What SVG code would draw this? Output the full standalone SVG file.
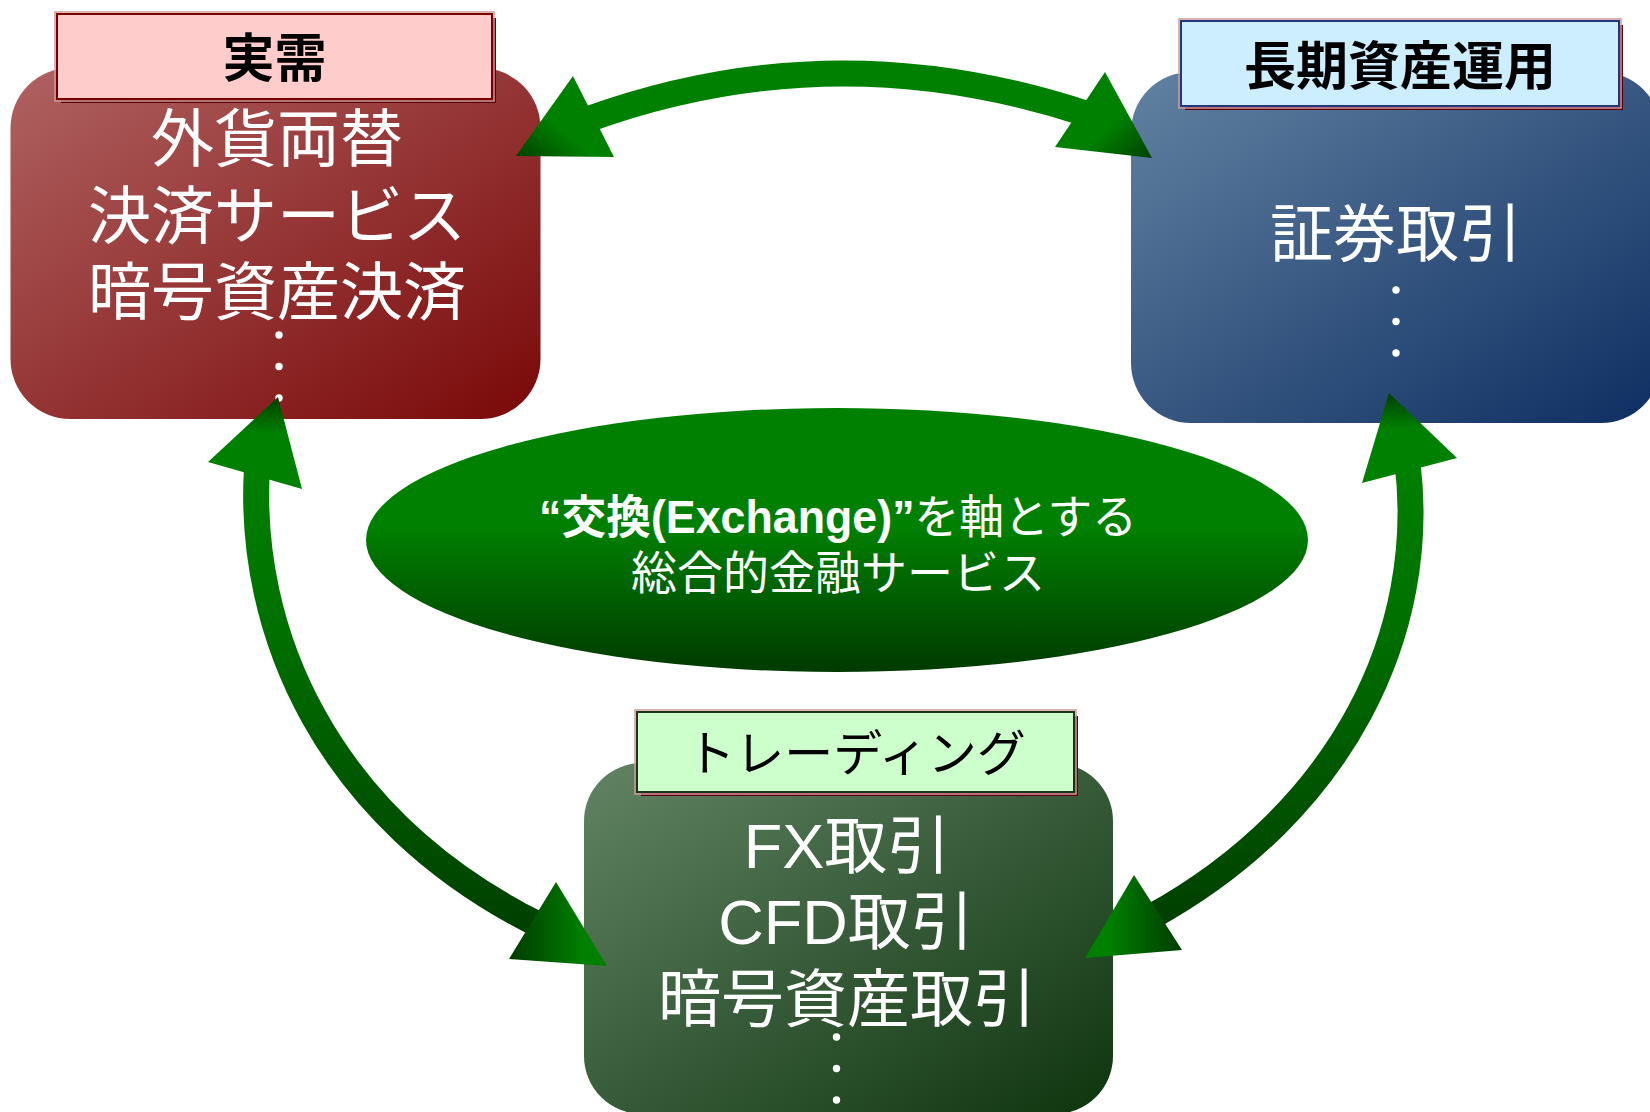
<svg xmlns="http://www.w3.org/2000/svg" width="1650" height="1112" viewBox="0 0 1650 1112">
<style>
.jp{font-family:"Liberation Sans","Noto Sans CJK JP",sans-serif}
.big{font-size:63px;fill:#ffffff;text-anchor:middle}
.lbl{font-size:52px;fill:#000000;text-anchor:middle}
.ell{font-size:46px;fill:#ffffff;text-anchor:middle}
.dot{fill:#ffffff}
.shadow{fill:#5a0008}
.outer{fill:none;stroke:#d09a9a;stroke-width:1.5}
.shaft{fill:none;stroke-width:26;stroke-linecap:butt}
</style>
<defs>
<linearGradient id="gRed" x1="0" y1="0" x2="1" y2="1">
<stop offset="0" stop-color="#b06262"/><stop offset="1" stop-color="#7a0808"/>
</linearGradient>
<linearGradient id="gBlue" x1="0" y1="0" x2="1" y2="1">
<stop offset="0" stop-color="#6282a2"/><stop offset="1" stop-color="#0e2e62"/>
</linearGradient>
<linearGradient id="gGreen" x1="0" y1="0" x2="1" y2="1">
<stop offset="0" stop-color="#628464"/><stop offset="1" stop-color="#0e340e"/>
</linearGradient>
<linearGradient id="gEll" x1="0" y1="0" x2="0" y2="1">
<stop offset="0" stop-color="#008000"/><stop offset="0.45" stop-color="#008000"/><stop offset="1" stop-color="#003a00"/>
</linearGradient>
<linearGradient id="gShaftV" x1="0" y1="0" x2="0" y2="1">
<stop offset="0" stop-color="#008000"/><stop offset="0.35" stop-color="#007000"/><stop offset="1" stop-color="#004000"/>
</linearGradient>
<linearGradient id="gHeadTL" x1="1" y1="0" x2="0" y2="1">
<stop offset="0" stop-color="#008000"/><stop offset="0.6" stop-color="#008000"/><stop offset="1" stop-color="#004000"/>
</linearGradient>
<linearGradient id="gHeadTR" x1="0" y1="0" x2="1" y2="1">
<stop offset="0" stop-color="#008000"/><stop offset="0.6" stop-color="#008000"/><stop offset="1" stop-color="#004000"/>
</linearGradient>
<linearGradient id="gHeadUp" x1="0" y1="1" x2="0" y2="0">
<stop offset="0" stop-color="#008000"/><stop offset="0.6" stop-color="#008000"/><stop offset="1" stop-color="#004000"/>
</linearGradient>
<linearGradient id="gHeadLR" x1="0" y1="0" x2="1" y2="0">
<stop offset="0" stop-color="#003c00"/><stop offset="0.5" stop-color="#006800"/><stop offset="0.75" stop-color="#008000"/><stop offset="1" stop-color="#008000"/>
</linearGradient>
<linearGradient id="gHeadRL" x1="1" y1="0" x2="0" y2="0">
<stop offset="0" stop-color="#003c00"/><stop offset="0.5" stop-color="#006800"/><stop offset="0.75" stop-color="#008000"/><stop offset="1" stop-color="#008000"/>
</linearGradient>
</defs>
<rect width="1650" height="1112" fill="#ffffff"/>

<g id="node-jitsuju">
<rect x="10.5" y="68" width="530" height="351" rx="60" ry="60" fill="url(#gRed)"/>
<rect x="61" y="18" width="435" height="85" class="shadow"/>
<rect x="55" y="12" width="439" height="89" class="outer"/>
<rect x="57" y="14" width="435" height="85" fill="#ffcccc" stroke="#7a0000" stroke-width="2"/>
<text x="274.5" y="77" class="jp lbl" font-weight="bold">実需</text>
<text class="jp big"><tspan x="277" y="161">外貨両替</tspan><tspan x="277" y="238">決済サービス</tspan><tspan x="277" y="314">暗号資産決済</tspan></text>
<circle cx="279" cy="335" r="3.7" class="dot"/>
<circle cx="279" cy="366.5" r="3.7" class="dot"/>
<circle cx="279" cy="398" r="3.7" class="dot"/>
</g>

<g id="node-choki">
<rect x="1131" y="72" width="530" height="351" rx="60" ry="60" fill="url(#gBlue)"/>
<rect x="1185" y="25" width="438" height="85" class="shadow"/>
<rect x="1179" y="19" width="442" height="89" class="outer"/>
<rect x="1181" y="21" width="438" height="85" fill="#cceeff" stroke="#24367e" stroke-width="2"/>
<text x="1400" y="85" class="jp lbl" font-weight="bold">長期資産運用</text>
<text x="1396" y="256" class="jp big">証券取引</text>
<circle cx="1396" cy="290" r="3.7" class="dot"/>
<circle cx="1396" cy="321.5" r="3.7" class="dot"/>
<circle cx="1396" cy="353" r="3.7" class="dot"/>
</g>

<g id="node-trading">
<rect x="584" y="763" width="529" height="351" rx="58" ry="58" fill="url(#gGreen)"/>
<rect x="641" y="716" width="437" height="80" class="shadow"/>
<rect x="635" y="710" width="441" height="84" class="outer"/>
<rect x="637" y="712" width="437" height="80" fill="#ccffcc" stroke="#1e331e" stroke-width="2"/>
<text x="856" y="771" class="jp lbl" style="font-size:49px">トレーディング</text>
<text class="jp big"><tspan x="847" y="868">FX取引</tspan><tspan x="846" y="944">CFD取引</tspan><tspan x="847" y="1021">暗号資産取引</tspan></text>
<circle cx="836.5" cy="1037" r="3.7" class="dot"/>
<circle cx="836.5" cy="1068.5" r="3.7" class="dot"/>
<circle cx="836.5" cy="1100" r="3.7" class="dot"/>
</g>

<g id="node-center">
<ellipse cx="837" cy="540" rx="471" ry="132" fill="url(#gEll)"/>
<text class="jp ell"><tspan x="838" y="533" textLength="598" lengthAdjust="spacingAndGlyphs"><tspan font-weight="bold">“交換(Exchange)”</tspan>を軸とする</tspan><tspan x="838" y="589">総合的金融サービス</tspan></text>
</g>

<g id="connectors">
<path class="shaft" stroke="#008000" d="M586,120 Q833,30 1087,114"/>
<polygon points="516,156 573,76 614,157" fill="url(#gHeadTL)"/>
<polygon points="1152,158 1105,72 1055,147" fill="url(#gHeadTR)"/>

<path class="shaft" stroke="url(#gShaftV)" d="M257,468 C247,630 325,818 539,925"/>
<polygon points="278,397 208,462 302,489" fill="url(#gHeadUp)"/>
<polygon points="607,966 556,882 509,959" fill="url(#gHeadLR)"/>

<path class="shaft" stroke="url(#gShaftV)" d="M1407.5,463 C1428,630 1345,810 1151,917"/>
<polygon points="1389,393 1362,483 1457,458" fill="url(#gHeadUp)"/>
<polygon points="1085,958 1134,875 1182,950" fill="url(#gHeadRL)"/>
</g>
</svg>
